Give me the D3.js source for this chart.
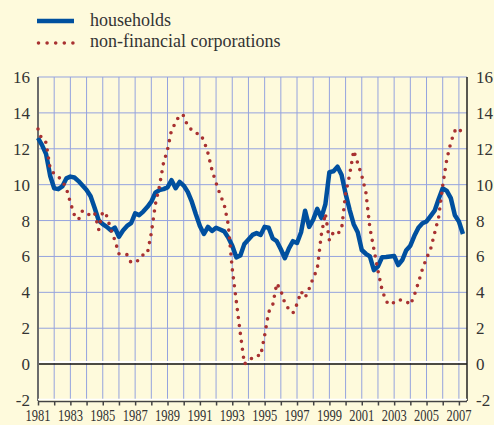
<!DOCTYPE html>
<html lang="en">
<head>
<meta charset="UTF-8">
<title>Households vs non-financial corporations</title>
<style>
  body { margin: 0; background: #fefadc; }
  svg { display: block; font-family: "Liberation Serif", "Times New Roman", serif; }
  .grid line { stroke: #95a3de; stroke-width: 1; }
  .lbl { fill: #333; }
</style>
</head>
<body>
<svg id="chart" width="494" height="425"></svg>
<script src="https://d3js.org/d3.v7.min.js"></script>
<script>
// quarterly data, first point = 1981 Q1
const startYear = 1981;
const households = [
  12.6, 12.2, 11.7, 10.5,   9.8, 9.75, 9.9, 10.35,   10.45, 10.4, 10.2, 9.95,
  9.7, 9.35, 8.7, 8.0,      7.8, 7.65, 7.45, 7.6,    7.1, 7.45, 7.7, 7.85,
  8.4, 8.3, 8.5, 8.75,      9.05, 9.55, 9.7, 9.75,   9.85, 10.25, 9.8, 10.15,
  9.95, 9.6, 9.05, 8.35,    7.7, 7.25, 7.65, 7.42,   7.6, 7.5, 7.4, 7.05,
  6.6, 5.95, 6.05, 6.7,     6.95, 7.2, 7.3, 7.2,     7.65, 7.6, 7.0, 6.85,
  6.4, 5.9, 6.45, 6.85,     6.75, 7.35, 8.55, 7.65,  8.05, 8.65, 8.15, 8.9,
  10.7, 10.75, 11.0, 10.55, 9.5, 8.6, 7.8, 7.35,     6.36, 6.15, 6.0, 5.24,
  5.45, 5.95, 5.97, 6.0,    6.03, 5.52, 5.8, 6.35,   6.6, 7.15, 7.6, 7.85,
  7.95, 8.25, 8.55, 9.2,    9.8, 9.65, 9.25, 8.3,    7.95, 7.25
];
const corporations = [
  13.1, 12.5, 12.35, 10.9,  10.6, 10.45, 10.2, 9.8,  9.0, 8.3, 8.05, 8.55,
  8.45, 8.25, 8.4, 7.5,     8.5, 8.25, 7.5, 6.9,     6.15, 6.1, 6.1, 5.65,
  5.7, 5.8, 6.1, 6.15,      7.3, 8.9, 9.9, 11.2,     11.95, 13.05, 13.45, 13.9,
  13.85, 13.25, 13.05, 12.85, 12.85, 12.45, 11.75, 10.8, 10.1, 9.45, 8.9, 7.8,
  5.3, 3.5, 1.7, 0.0,       0.2, 0.35, 0.5, 0.45,    1.6, 2.9, 3.3, 4.5,
  4.1, 3.4, 3.05, 2.85,     3.35, 4.05, 3.7, 4.2,    4.8, 5.3, 7.2, 8.4,
  6.9, 7.35, 7.25, 7.5,     9.5, 10.55, 11.9, 11.2,  10.5, 9.6, 7.6, 6.4,
  5.2, 4.15, 3.5, 3.3,      3.45, 3.6, 3.55, 3.5,    3.3, 3.85, 4.55, 5.3,
  5.9, 6.4, 7.3, 8.2,       9.95, 11.4, 12.35, 13.0, 12.85, 13.3
];
const yearLabels = ["1981","1983","1985","1987","1989","1991","1993","1995",
  "1997","1999","2001","2003","2005","2007"];
const yTicks = [-2, 0, 2, 4, 6, 8, 10, 12, 14, 16];
const seriesNames = ["households", "non-financial corporations"];

const svg = d3.select("#chart");
const plotL = 38, plotR = 467, plotT = 77, plotB = 400;

const x = d3.scaleLinear().domain([1981, 2007.5]).range([plotL, plotR]);
const y = d3.scaleLinear().domain([-2, 16]).range([plotB, plotT]);
const qx = (d, i) => x(startYear + i / 4);

// grid
const grid = svg.append("g").attr("class", "grid");
grid.selectAll(".h").data(yTicks.filter(v => v > -2 && v !== 0)).join("line")
  .attr("x1", plotL).attr("x2", plotR)
  .attr("y1", d => y(d)).attr("y2", d => y(d));
grid.selectAll(".v").data(d3.range(1982, 2008)).join("line")
  .attr("x1", d => x(d)).attr("x2", d => x(d))
  .attr("y1", plotT).attr("y2", plotB - 1);

// zero line with a light edge above it
svg.append("line").attr("x1", plotL).attr("x2", plotR)
  .attr("y1", y(0) - 2).attr("y2", y(0) - 2)
  .attr("stroke", "#fff").attr("stroke-width", 2);
svg.append("line").attr("x1", plotL).attr("x2", plotR)
  .attr("y1", y(0)).attr("y2", y(0))
  .attr("stroke", "#111").attr("stroke-width", 1.5);

// side axes
svg.append("line").attr("x1", plotL).attr("x2", plotL)
  .attr("y1", plotT).attr("y2", plotB + 1)
  .attr("stroke", "#6b6b6b").attr("stroke-width", 2);
svg.append("line").attr("x1", plotR).attr("x2", plotR)
  .attr("y1", plotT).attr("y2", plotB + 1)
  .attr("stroke", "#222").attr("stroke-width", 1.5);

// bottom axis with year ticks
const xAxis = svg.append("g")
  .attr("transform", `translate(0,${plotB + 1.5})`)
  .call(d3.axisBottom(x).tickValues(d3.range(1981, 2008)).tickSize(4).tickFormat(""));
xAxis.select(".domain").attr("stroke", "#444").attr("stroke-width", 1.5)
  .attr("d", `M${plotL},0H${plotR}`);
xAxis.selectAll(".tick line").attr("stroke", "#444").attr("stroke-width", 1.5);
svg.append("line").attr("x1", plotL).attr("x2", plotR)
  .attr("y1", plotB - 0.5).attr("y2", plotB - 0.5)
  .attr("stroke", "#fff").attr("stroke-width", 1.5);

svg.append("g").selectAll("text").data(yearLabels).join("text")
  .attr("class", "lbl")
  .attr("x", d => x(+d)).attr("y", 421)
  .attr("text-anchor", "middle")
  .attr("font-size", 16)
  .attr("textLength", 25).attr("lengthAdjust", "spacingAndGlyphs")
  .text(d => d);

// y labels both sides
svg.append("g").selectAll("text").data(yTicks).join("text")
  .attr("class", "lbl")
  .attr("x", 30).attr("y", d => y(d) + 6)
  .attr("text-anchor", "end").attr("font-size", 17)
  .text(d => d);
svg.append("g").selectAll("text").data(yTicks).join("text")
  .attr("class", "lbl")
  .attr("x", 476).attr("y", d => y(d) + 6)
  .attr("text-anchor", "start").attr("font-size", 17)
  .text(d => d);

// series
const line = d3.line().x(qx).y(d => y(d));
svg.append("path").datum(households)
  .attr("d", line)
  .attr("fill", "none").attr("stroke", "#00509f")
  .attr("stroke-width", 4.5).attr("stroke-linejoin", "round");
svg.append("path").datum(corporations)
  .attr("d", line)
  .attr("fill", "none").attr("stroke", "#a83131")
  .attr("stroke-width", 3.6).attr("stroke-linecap", "round")
  .attr("stroke-dasharray", "0 8");

// legend
const legend = svg.append("g");
legend.append("line").attr("x1", 37).attr("x2", 74).attr("y1", 21).attr("y2", 21)
  .attr("stroke", "#00509f").attr("stroke-width", 4.5);
legend.append("line").attr("x1", 38.5).attr("x2", 74).attr("y1", 43).attr("y2", 43)
  .attr("stroke", "#a83131").attr("stroke-width", 3.6)
  .attr("stroke-linecap", "round").attr("stroke-dasharray", "0 8.6");
legend.selectAll("text").data(seriesNames).join("text")
  .attr("class", "lbl")
  .attr("x", 90).attr("y", (d, i) => 26 + i * 21)
  .attr("font-size", 18)
  .text(d => d);
</script>
</body>
</html>
